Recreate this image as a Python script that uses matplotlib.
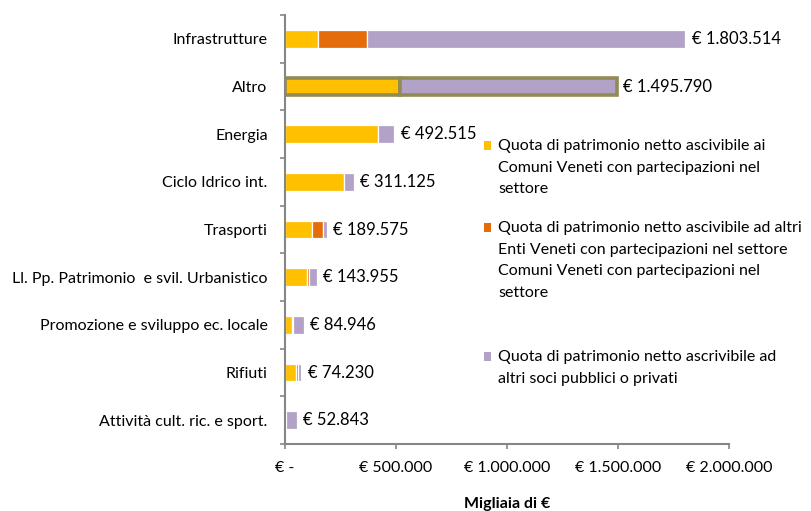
import numpy as np
import matplotlib
matplotlib.use("Agg")
import matplotlib.pyplot as plt
from matplotlib.patches import Rectangle, Patch
from matplotlib.legend_handler import HandlerPatch

categories = ["Infrastrutture", "Altro", "Energia", "Ciclo Idrico int.", "Trasporti",
              "Ll. Pp. Patrimonio  e svil. Urbanistico", "Promozione e sviluppo ec. locale",
              "Rifiuti", "Attività cult. ric. e sport."]
comuni = [147000, 520000, 418000, 265000, 120000, 98000, 30000, 49000, 5000]
enti = [222000, 0, 0, 0, 50000, 12000, 6000, 11000, 0]
altri = [1434514, 975790, 74515, 46125, 19575, 33955, 48946, 14230, 47843]
totals = [1803514, 1495790, 492515, 311125, 189575, 143955, 84946, 74230, 52843]
series_labels = [
    "Quota di patrimonio netto ascivibile ai\nComuni Veneti con partecipazioni nel\nsettore",
    "Quota di patrimonio netto ascivibile ad altri\nEnti Veneti con partecipazioni nel settore\nComuni Veneti con partecipazioni nel\nsettore",
    "Quota di patrimonio netto ascrivibile ad\naltri soci pubblici o privati",
]
xticks = [0, 500000, 1000000, 1500000, 2000000]
highlight = "Altro"
x_label = "Migliaia di €"

colors = ["#FFC000", "#E46C0A", "#B3A2C7"]
gray = "#868686"
fs = 11.5


def euro(v):
    return "€ -" if v == 0 else "€ " + f"{v:,.0f}".replace(",", ".")


plt.rcParams["font.family"] = ["Lato", "DejaVu Sans"]
fig = plt.figure(figsize=(8.12, 5.11), dpi=100)
W, H = 812, 511
ax = fig.add_axes([285 / W, 1 - 444 / H, (729 - 285) / W, (444 - 15) / H])

y = np.arange(len(categories))
left = np.zeros(len(categories))
hi = categories.index(highlight)
handles = []
for vals, c, lab in zip([comuni, enti, altri], colors, series_labels):
    vals = np.array(vals, dtype=float)
    bars = ax.barh(y, vals, left=left, height=0.37, color=c, edgecolor="white", linewidth=0.9)
    for i, b in enumerate(bars):
        if vals[i] == 0:
            b.set_linewidth(0)
        elif i == hi:
            b.set_edgecolor("#948A54")
            b.set_linewidth(2.6)
    left += vals
    handles.append(Patch(facecolor=c, label=lab))

for yi, t in zip(y, totals):
    ax.annotate(euro(t), xy=(t, yi), xytext=(4.5, 0), textcoords="offset points",
                va="center", ha="left", fontsize=12, color="#000000")

ax.set_xlim(0, 2000000)
ax.set_ylim(len(categories) - 0.5, -0.5)
ax.set_xticks(xticks)
ax.set_xticklabels([euro(v) for v in xticks], fontsize=fs)
ax.set_yticks(y)
ax.set_yticklabels(categories, fontsize=fs)
ax.set_yticks(np.arange(len(categories) + 1) - 0.5, minor=True)
ax.tick_params(axis="y", which="major", length=0, pad=12.5)
ax.tick_params(axis="y", which="minor", length=3.6, width=1.2, color=gray, direction="out")
ax.tick_params(axis="x", which="major", length=3.6, width=1.2, color=gray, direction="out", pad=8.5)
for s in ["top", "right"]:
    ax.spines[s].set_visible(False)
for s in ["left", "bottom"]:
    ax.spines[s].set_color(gray)
    ax.spines[s].set_linewidth(1.5)
ax.set_xlabel(x_label, fontsize=fs, fontweight="bold", labelpad=16)

pitch_px = 22.0
linesp = 1.7


class TopSquare(HandlerPatch):
    def __init__(self, nlines):
        super().__init__()
        self.nlines = nlines

    def create_artists(self, legend, orig_handle, xdescent, ydescent, width, height, fontsize, trans):
        shift = (self.nlines - 1) / 2 * pitch_px * 72 / 100
        p = Rectangle((-xdescent, -ydescent + shift), width, height,
                      facecolor=orig_handle.get_facecolor(), edgecolor="none", transform=trans)
        return [p]


tops = [139, 221, 350]
for hdl, top in zip(handles, tops):
    n = hdl.get_label().count("\n") + 1
    leg = fig.legend(handles=[hdl], labels=[hdl.get_label()], loc="upper left",
                     bbox_to_anchor=(484 / W, 1 - top / H), frameon=False, borderpad=0,
                     borderaxespad=0, handlelength=0.45, handleheight=0.45, handletextpad=0.45,
                     prop={"size": fs}, handler_map={hdl: TopSquare(n)})
    for t in leg.get_texts():
        t.set_linespacing(linesp)

fig.savefig("out.png", dpi=100)
